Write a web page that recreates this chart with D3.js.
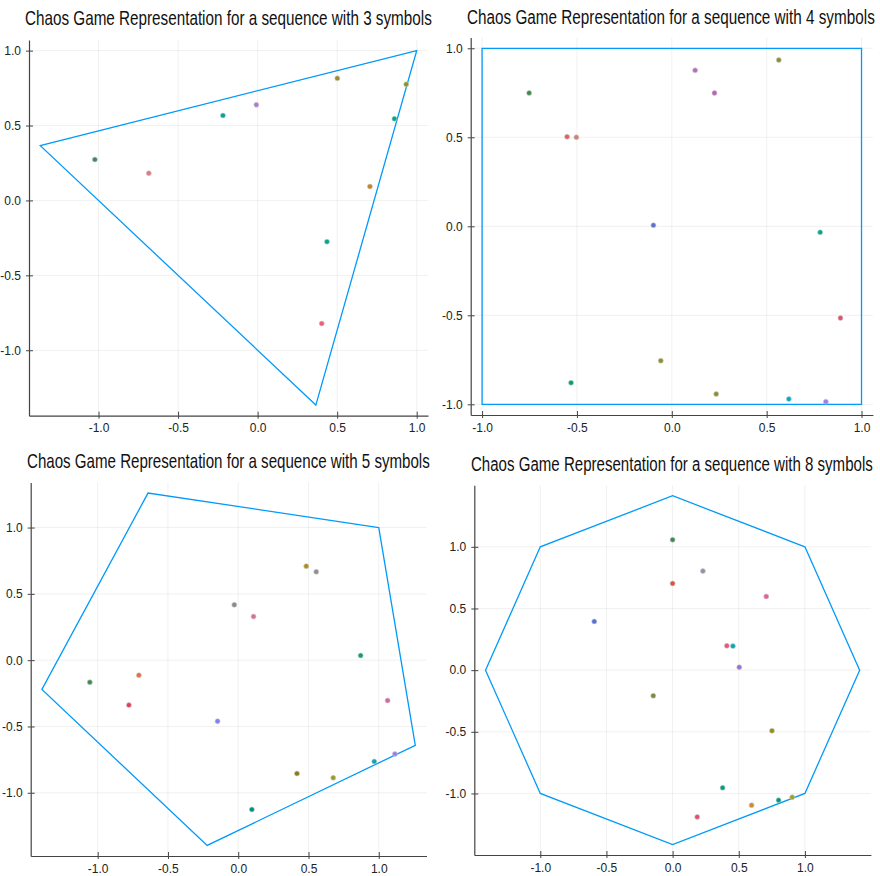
<!DOCTYPE html>
<html>
<head>
<meta charset="utf-8">
<script src="https://cdn.jsdelivr.net/npm/d3@7"></script>
<style>
    body { margin: 0; background: #fff; }
    svg { display: block; }
    .title { font-family: "Liberation Sans Narrow", "Arial Narrow", "Liberation Sans", sans-serif; fill: #111; }
    .tick-label { font-family: "Liberation Sans Narrow", "Arial Narrow", "Liberation Sans", sans-serif; font-size: 12px; fill: #222; }
</style>
</head>
<body>
<div id="plotsContainer"></div>
<script>
// ---- data ----
const tickValues = [-1.0, -0.5, 0.0, 0.5, 1.0];

const titles = [
    "Chaos Game Representation for a sequence with 3 symbols",
    "Chaos Game Representation for a sequence with 4 symbols",
    "Chaos Game Representation for a sequence with 5 symbols",
    "Chaos Game Representation for a sequence with 8 symbols",
];

// polygon corners (one per symbol)
const polygon3 = [[1.0, 1.0], [-1.366, 0.366], [0.366, -1.366]];
const polygon4 = [[1.0, 1.0], [-1.0, 1.0], [-1.0, -1.0], [1.0, -1.0]];
const polygon5 = [[1.0, 1.0], [-0.642, 1.260], [-1.397, -0.221], [-0.221, -1.397], [1.260, -0.642]];
const polygon8 = [[1.0, 1.0], [0.0, 1.414], [-1.0, 1.0], [-1.414, 0.0],
                  [-1.0, -1.0], [0.0, -1.414], [1.0, -1.0], [1.414, 0.0]];

// chaos game points
const points3 = [[-1.023, 0.273], [-0.684, 0.182], [-0.218, 0.567], [-0.008, 0.638], [0.501, 0.815],
                 [0.934, 0.775], [0.860, 0.545], [0.706, 0.093], [0.436, -0.275], [0.403, -0.822]];
const colors3 = ["#3E8A5E", "#E07A80", "#00A49A", "#B07CC8", "#9E8E2A",
                 "#8E971D", "#00A98D", "#C68225", "#00A98D", "#ED5E7A"];

const points4 = [[-0.752, 0.749], [-0.552, 0.503], [-0.503, 0.500], [0.123, 0.876], [0.225, 0.749],
                 [0.564, 0.934], [-0.097, 0.006], [0.782, -0.034], [0.889, -0.515], [-0.058, -0.755],
                 [-0.531, -0.879], [0.234, -0.942], [0.617, -0.970], [0.812, -0.985]];
const colors4 = ["#3E8A50", "#E06060", "#D88070", "#B070C0", "#C060B0",
                 "#8E8E30", "#6070D0", "#00A98D", "#E05070", "#8E8E30",
                 "#00A070", "#8E8E30", "#00A9CD", "#9B7FE9"];

const points5 = [[0.484, 0.709], [0.555, 0.666], [-0.028, 0.417], [0.109, 0.329], [0.871, 0.035],
                 [-1.056, -0.166], [-0.707, -0.113], [-0.778, -0.339], [-0.147, -0.460], [1.063, -0.304],
                 [1.115, -0.707], [0.968, -0.764], [0.676, -0.887], [0.418, -0.855], [0.097, -1.126]];
const colors5 = ["#AC8E18", "#909090", "#8A8A8A", "#E07090", "#10A070",
                 "#3E8A50", "#E36F47", "#E04060", "#8080F0", "#E060A0",
                 "#9B7FE9", "#00AAAE", "#9A9A30", "#8A7A20", "#009080"];

const points8 = [[0.0, 1.057], [0.229, 0.803], [0.0, 0.703], [0.708, 0.598], [-0.592, 0.395],
                 [0.410, 0.197], [0.456, 0.195], [0.504, 0.024], [-0.146, -0.208], [0.751, -0.492],
                 [0.378, -0.954], [0.597, -1.095], [0.801, -1.054], [0.904, -1.030], [0.186, -1.190]];
const colors8 = ["#3E8A50", "#9090A8", "#E05040", "#E0609A", "#5070E0",
                 "#F05080", "#00AAAE", "#A070D0", "#7A8A40", "#9A8A20",
                 "#00A080", "#D08A30", "#009A80", "#9AA030", "#E05070"];

// ---- layout ----
const width = 880;
const height = 876;
const lineColor = "#009AFA";

// plot area of each panel (pixels) and where its title sits
const panels = [
    { title: titles[0], polygon: polygon3, points: points3, colors: colors3,
      left: 29, right: 428, top: 40, bottom: 415.7, titleX0: 25, titleX1: 432, titleY: 25 },
    { title: titles[1], polygon: polygon4, points: points4, colors: colors4,
      left: 470.7, right: 872.9, top: 37.6, bottom: 415, titleX0: 467, titleX1: 875, titleY: 24 },
    { title: titles[2], polygon: polygon5, points: points5, colors: colors5,
      left: 30.7, right: 426.5, top: 482.5, bottom: 856, titleX0: 27, titleX1: 430, titleY: 468 },
    { title: titles[3], polygon: polygon8, points: points8, colors: colors8,
      left: 474.3, right: 870.9, top: 485.3, bottom: 855, titleX0: 471, titleX1: 873, titleY: 471 },
];

const svg = d3.select("#plotsContainer")
    .append("svg")
    .attr("width", width)
    .attr("height", height);

panels.forEach(createPanel);

function createPanel(p) {
    // axis limits like Plots.jl: data extent plus 3% padding
    const xs = p.polygon.map((d) => d[0]).concat(p.points.map((d) => d[0]));
    const ys = p.polygon.map((d) => d[1]).concat(p.points.map((d) => d[1]));
    const [xmin, xmax] = d3.extent(xs);
    const [ymin, ymax] = d3.extent(ys);
    const padX = (xmax - xmin) * 0.03;
    const padY = (ymax - ymin) * 0.03;

    const x = d3.scaleLinear()
        .domain([xmin - padX, xmax + padX])
        .range([p.left, p.right]);
    const y = d3.scaleLinear()
        .domain([ymin - padY, ymax + padY])
        .range([p.bottom, p.top]);

    const g = svg.append("g");

    // faint grid
    g.append("g")
        .selectAll("line")
        .data(tickValues)
        .enter()
        .append("line")
        .attr("x1", (d) => x(d))
        .attr("x2", (d) => x(d))
        .attr("y1", p.top)
        .attr("y2", p.bottom)
        .attr("stroke", "#000")
        .attr("stroke-opacity", 0.06)
        .attr("stroke-width", 1);

    g.append("g")
        .selectAll("line")
        .data(tickValues)
        .enter()
        .append("line")
        .attr("x1", p.left)
        .attr("x2", p.right)
        .attr("y1", (d) => y(d))
        .attr("y2", (d) => y(d))
        .attr("stroke", "#000")
        .attr("stroke-opacity", 0.06)
        .attr("stroke-width", 1);

    // x axis
    const xAxis = g.append("g")
        .attr("transform", `translate(0,${p.bottom})`)
        .call(d3.axisBottom(x)
            .tickValues(tickValues)
            .tickSizeInner(-4)
            .tickSizeOuter(0)
            .tickPadding(8)
            .tickFormat((d) => d.toFixed(1)));
    xAxis.select(".domain").attr("stroke", "#444").attr("stroke-width", 1.2);
    xAxis.selectAll(".tick line").attr("stroke", "#444");
    xAxis.selectAll(".tick line").clone().attr("y2", 3);
    xAxis.selectAll("text").attr("class", "tick-label").attr("fill", null);

    // y axis
    const yAxis = g.append("g")
        .attr("transform", `translate(${p.left},0)`)
        .call(d3.axisLeft(y)
            .tickValues(tickValues)
            .tickSizeInner(-4)
            .tickSizeOuter(0)
            .tickPadding(8)
            .tickFormat((d) => d.toFixed(1)));
    yAxis.select(".domain").attr("stroke", "#444").attr("stroke-width", 1.2);
    yAxis.selectAll(".tick line").attr("stroke", "#444");
    yAxis.selectAll(".tick line").clone().attr("x2", -3);
    yAxis.selectAll("text").attr("class", "tick-label").attr("fill", null);

    // polygon outline
    const line = d3.line()
        .x((d) => x(d[0]))
        .y((d) => y(d[1]))
        .curve(d3.curveLinearClosed);

    g.append("path")
        .datum(p.polygon)
        .attr("d", line)
        .attr("fill", "none")
        .attr("stroke", lineColor)
        .attr("stroke-width", 1.3);

    // points
    g.append("g")
        .selectAll("circle")
        .data(p.points)
        .enter()
        .append("circle")
        .attr("cx", (d) => x(d[0]))
        .attr("cy", (d) => y(d[1]))
        .attr("r", 2.5)
        .attr("fill", (d, i) => p.colors[i])
        .attr("stroke", "#ccc")
        .attr("stroke-width", 0.6);

    // title: squeeze horizontally so it looks condensed and fits its span
    const title = g.append("text")
        .attr("class", "title")
        .attr("x", 0)
        .attr("y", 0)
        .style("font-size", "21px")
        .text(p.title);
    const natural = title.node().getComputedTextLength();
    const sx = (p.titleX1 - p.titleX0) / natural;
    title.attr("transform", `translate(${p.titleX0},${p.titleY}) scale(${sx},1)`);
}
</script>
</body>
</html>
